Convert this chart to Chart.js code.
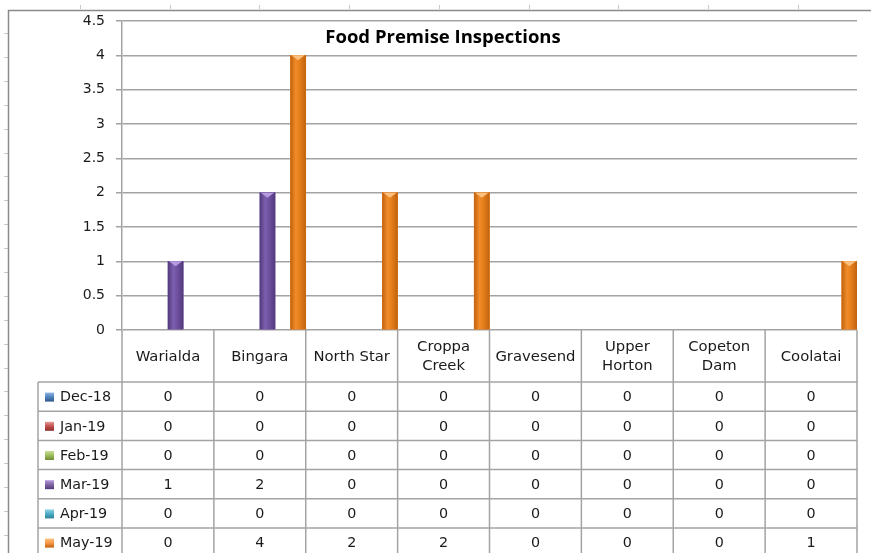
<!DOCTYPE html>
<html>
<head>
<meta charset="utf-8">
<script src="https://cdn.jsdelivr.net/npm/chart.js@4"></script>
<style>
  html, body { margin: 0; padding: 0; background: #ffffff; }
  #wrap { width: 871px; height: 553px; position: relative; }
</style>
</head>
<body>
<div id="wrap"><canvas id="c" width="871" height="553"></canvas></div>
<script>
// ---- data ----
const categories = ['Warialda', 'Bingara', 'North Star', ['Croppa', 'Creek'], 'Gravesend', ['Upper', 'Horton'], ['Copeton', 'Dam'], 'Coolatai'];
const seriesLabels = ['Dec-18', 'Jan-19', 'Feb-19', 'Mar-19', 'Apr-19', 'May-19'];
const dec18 = [0, 0, 0, 0, 0, 0, 0, 0];
const jan19 = [0, 0, 0, 0, 0, 0, 0, 0];
const feb19 = [0, 0, 0, 0, 0, 0, 0, 0];
const mar19 = [1, 2, 0, 0, 0, 0, 0, 0];
const apr19 = [0, 0, 0, 0, 0, 0, 0, 0];
const may19 = [0, 4, 2, 2, 0, 0, 0, 1];
const yMin = 0, yMax = 4.5, yStep = 0.5;
const chartTitle = 'Food Premise Inspections';

const seriesValues = [dec18, jan19, feb19, mar19, apr19, may19];
const barColors = ['#4a7ebb', '#be4b48', '#98b954', '#6f51a0', '#3fa6c3', '#e57f1c'];
const barEdge = ['#30598c', '#8e2f2d', '#6e8a36', '#523a7d', '#2a7f96', '#c0620e'];
const barMid = ['#5b8fcc', '#d05e5b', '#aacb66', '#7d5fb0', '#55b8d4', '#f28c2a'];
const barTop = ['#8fb4e3', '#e59a98', '#c8e09a', '#b59be0', '#94d4e6', '#fbc07f'];
const keyColors = ['#4f81bd', '#c0504d', '#9bbb59', '#8064a2', '#4bacc6', '#f79646'];

const FONT = '"DejaVu Sans", sans-serif';
const GRID = '#a3a3a3';

const barShadePlugin = {
  id: 'barShade',
  afterDatasetsDraw(chart) {
    const ctx = chart.ctx;
    chart.data.datasets.forEach((ds, k) => {
      const meta = chart.getDatasetMeta(k);
      meta.data.forEach((el, i) => {
        if (!ds.data[i]) return;
        const p = el.getProps(['x', 'y', 'base', 'width'], true);
        const l = p.x - p.width / 2, r = p.x + p.width / 2;
        const g = ctx.createLinearGradient(l, 0, r, 0);
        g.addColorStop(0, barEdge[k]);
        g.addColorStop(0.35, barMid[k]);
        g.addColorStop(0.6, barColors[k]);
        g.addColorStop(1, barEdge[k]);
        ctx.save();
        ctx.fillStyle = g;
        ctx.fillRect(l, p.y, p.width, p.base - p.y);
        ctx.fillStyle = barTop[k];
        ctx.beginPath();
        ctx.moveTo(l + 1, p.y);
        ctx.lineTo(r - 1, p.y);
        ctx.lineTo(p.x, p.y + 5);
        ctx.closePath();
        ctx.fill();
        ctx.restore();
      });
    });
  }
};

const tablePlugin = {
  id: 'dataTable',
  afterDraw(chart) {
    const ctx = chart.ctx;
    const ca = chart.chartArea;
    const xs = chart.scales.x;
    const n = categories.length;
    const step = xs.getPixelForValue(1) - xs.getPixelForValue(0);
    const edge = i => xs.getPixelForValue(0) - step / 2 + i * step;
    const headerH = 52;
    const rowH = 29.2;
    const legendLeft = 38;
    const top = ca.bottom;
    const rowsTop = top + headerH;
    const H = chart.height;

    ctx.save();
    // outer frame (sheet border) and faint sheet ticks
    ctx.strokeStyle = '#c8c8c8';
    ctx.lineWidth = 1;
    for (let x = 80; x < chart.width; x += 89.7) {
      ctx.beginPath(); ctx.moveTo(Math.round(x) + 0.5, 5); ctx.lineTo(Math.round(x) + 0.5, 9); ctx.stroke();
    }
    for (let y = 33; y < H; y += 23.9) {
      ctx.beginPath(); ctx.moveTo(4, Math.round(y) + 0.5); ctx.lineTo(8, Math.round(y) + 0.5); ctx.stroke();
    }
    ctx.strokeStyle = '#8a8a8a';
    ctx.lineWidth = 1.5;
    ctx.beginPath();
    ctx.moveTo(8.5, H); ctx.lineTo(8.5, 10.5); ctx.lineTo(chart.width, 10.5);
    ctx.stroke();

    // title
    ctx.fillStyle = '#000000';
    ctx.font = 'bold 18.5px "Open Sans", sans-serif';
    ctx.textAlign = 'center';
    ctx.textBaseline = 'middle';
    ctx.fillText(chartTitle, 443, 38);

    // table lines
    ctx.strokeStyle = GRID;
    ctx.lineWidth = 1.5;
    for (let i = 0; i <= n; i++) {
      const x = edge(i);
      ctx.beginPath(); ctx.moveTo(x, top); ctx.lineTo(x, H); ctx.stroke();
    }
    ctx.beginPath(); ctx.moveTo(legendLeft, rowsTop); ctx.lineTo(legendLeft, H); ctx.stroke();
    for (let r = 0; r <= seriesLabels.length; r++) {
      const y = rowsTop + r * rowH;
      if (y > H) break;
      ctx.beginPath(); ctx.moveTo(legendLeft, y); ctx.lineTo(edge(n), y); ctx.stroke();
    }

    // header labels
    ctx.fillStyle = '#1a1a1a';
    ctx.font = '14.8px ' + FONT;
    ctx.textAlign = 'center';
    ctx.textBaseline = 'middle';
    for (let i = 0; i < n; i++) {
      const cx = (edge(i) + edge(i + 1)) / 2;
      const lab = categories[i];
      const cy = top + headerH / 2 + 1;
      if (Array.isArray(lab)) {
        ctx.fillText(lab[0], cx, cy - 9.5);
        ctx.fillText(lab[1], cx, cy + 9.5);
      } else {
        ctx.fillText(lab, cx, cy);
      }
    }

    // rows
    ctx.font = '14.3px ' + FONT;
    for (let r = 0; r < seriesLabels.length; r++) {
      const cy = rowsTop + r * rowH + rowH / 2 + 1;
      // legend key
      const kg = ctx.createLinearGradient(45, cy - 5, 45, cy + 4);
      kg.addColorStop(0, barTop[r]);
      kg.addColorStop(0.5, keyColors[r]);
      kg.addColorStop(1, barEdge[r]);
      ctx.fillStyle = kg;
      ctx.fillRect(45, cy - 5, 9, 9);
      ctx.fillStyle = '#1a1a1a';
      ctx.textAlign = 'left';
      ctx.fillText(seriesLabels[r], 60, cy);
      ctx.textAlign = 'center';
      for (let i = 0; i < n; i++) {
        const cx = (edge(i) + edge(i + 1)) / 2;
        ctx.fillText(String(seriesValues[r][i]), cx, cy);
      }
    }
    ctx.restore();
  }
};

new Chart(document.getElementById('c'), {
  type: 'bar',
  data: {
    labels: categories.map(c => Array.isArray(c) ? c.join(' ') : c),
    datasets: seriesLabels.map((s, k) => ({
      label: s,
      data: seriesValues[k],
      backgroundColor: (c) => (c.raw ? barColors[k] : 'rgba(0,0,0,0)'),
      borderWidth: 0,
      categoryPercentage: 1.0,
      barPercentage: 1.0
    }))
  },
  options: {
    responsive: false,
    animation: false,
    layout: { padding: { left: 0, top: 21, right: 14, bottom: 223 } },
    plugins: { legend: { display: false }, title: { display: false }, tooltip: { enabled: false } },
    scales: {
      x: { display: false },
      y: {
        min: yMin, max: yMax,
        afterFit(scale) { scale.width = 122; },
        ticks: {
          stepSize: yStep, color: '#1a1a1a', font: { family: 'DejaVu Sans', size: 14 }, padding: 11,
          callback: (v) => String(v)
        },
        grid: { color: GRID, lineWidth: 1.5, tickLength: 6, tickColor: GRID },
        border: { display: true, color: GRID, width: 1.5 }
      }
    }
  },
  plugins: [barShadePlugin, tablePlugin]
});
</script>
</body>
</html>
